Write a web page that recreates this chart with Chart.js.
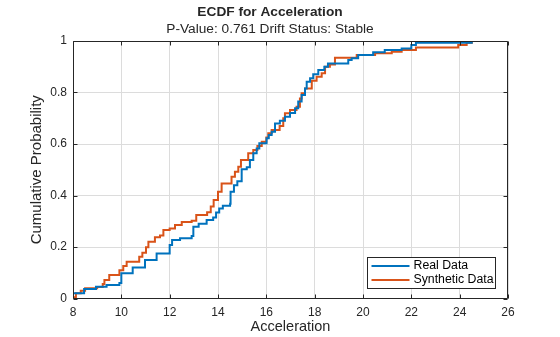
<!DOCTYPE html>
<html>
<head>
<meta charset="utf-8">
<script src="https://cdn.jsdelivr.net/npm/chart.js@4"></script>
<style>
  html, body { margin: 0; padding: 0; background: #fff; }
</style>
</head>
<body>
<canvas id="ecdfChart" width="560" height="337"></canvas>
<script>
const FONT = '"Liberation Sans", Arial, Helvetica, sans-serif';
const INK = '#262626';

const chartTitle = 'ECDF for Acceleration';
const chartSubtitle = 'P-Value: 0.761 Drift Status: Stable';
const xLabel = 'Acceleration';
const yLabel = 'Cumulative Probability';
const seriesNames = ['Real Data', 'Synthetic Data'];
const seriesColors = ['#0072BD', '#D95319'];

const xTicks = [8, 10, 12, 14, 16, 18, 20, 22, 24, 26];
const yTicks = [0, 0.2, 0.4, 0.6, 0.8, 1];

// step positions and cumulative values, real sample
const realX = [8.0, 8.0, 8.46, 8.95, 9.39, 9.92, 10.0, 10.47, 10.98, 11.46,
  12.0, 12.1, 12.43, 12.91, 12.98, 13.2, 13.53, 13.8, 13.92, 14.05,
  14.2, 14.5, 14.52, 14.66, 14.8, 14.98, 15.19, 15.32, 15.46, 15.6,
  15.71, 16.01, 16.1, 16.22, 16.36, 16.56, 16.77, 16.98, 17.19, 17.32,
  17.46, 17.6, 17.67, 17.81, 17.94, 18.15, 18.4, 18.55, 19.39, 19.53,
  19.8, 20.42, 20.9, 21.6, 22.0, 22.19, 24.5];
const realY = [0, 0.02, 0.037, 0.046, 0.052, 0.06, 0.098, 0.12, 0.15, 0.175,
  0.208, 0.227, 0.234, 0.243, 0.279, 0.29, 0.305, 0.315, 0.334, 0.35,
  0.36, 0.368, 0.415, 0.44, 0.455, 0.502, 0.51, 0.538, 0.564, 0.583,
  0.603, 0.622, 0.635, 0.648, 0.68, 0.69, 0.706, 0.72, 0.739, 0.765,
  0.79, 0.816, 0.842, 0.855, 0.871, 0.887, 0.9, 0.913, 0.926, 0.933,
  0.946, 0.956, 0.965, 0.971, 0.984, 0.993, 1.0];

// step positions and cumulative values, synthetic sample
const synthX = [8.0, 8.0, 8.12, 8.32, 8.5, 9.0, 9.23, 9.3, 9.5, 9.92,
  10.08, 10.22, 10.74, 10.87, 11.02, 11.12, 11.39, 11.6, 11.74, 12.0,
  12.22, 12.5, 12.91, 13.1, 13.55, 13.7, 13.82, 14.0, 14.15, 14.56,
  14.7, 14.84, 14.95, 15.25, 15.46, 15.63, 15.81, 16.0, 16.08, 16.22,
  16.55, 16.7, 16.77, 16.98, 17.25, 17.39, 17.46, 17.6, 17.88, 18.08,
  18.29, 18.43, 18.63, 18.84, 19.74, 20.5, 21.19, 21.6, 22.19, 23.94,
  24.29, 24.5];
const synthY = [0, 0.005, 0.02, 0.03, 0.04, 0.045, 0.056, 0.072, 0.091, 0.11,
  0.126, 0.143, 0.162, 0.178, 0.199, 0.22, 0.238, 0.245, 0.266, 0.272,
  0.285, 0.297, 0.302, 0.324, 0.335, 0.357, 0.383, 0.415, 0.447, 0.473,
  0.492, 0.512, 0.538, 0.564, 0.577, 0.592, 0.609, 0.625, 0.642, 0.654,
  0.67, 0.7, 0.719, 0.732, 0.745, 0.777, 0.797, 0.816, 0.846, 0.861,
  0.875, 0.9, 0.909, 0.935, 0.946, 0.952, 0.958, 0.965, 0.975, 0.984,
  0.993, 1.0];

function toPoints(xs, ys) {
    return xs.map((x, i) => ({ x: x, y: ys[i] }));
}

const px = v => Math.round(v) + 0.5;

// titles above the axes
const titles = {
    id: 'titles',
    afterDraw(chart) {
        const { ctx } = chart;
        ctx.save();
        ctx.fillStyle = INK;
        ctx.textAlign = 'center';
        ctx.textBaseline = 'middle';
        ctx.font = 'bold 13.7px ' + FONT;
        ctx.fillText(chartTitle, 270, 12);
        ctx.font = '13.7px ' + FONT;
        ctx.fillText(chartSubtitle, 270, 29.5);
        ctx.restore();
    }
};

// box round the axes with inward ticks on all four sides
const axesBox = {
    id: 'axesBox',
    afterDatasetsDraw(chart) {
        const { ctx, chartArea: a, scales } = chart;
        const L = px(a.left), R = px(a.right - 1), T = px(a.top), B = px(a.bottom - 1);
        const len = 4;
        ctx.save();
        ctx.strokeStyle = INK;
        ctx.lineWidth = 1;
        ctx.beginPath();
        ctx.rect(L, T, R - L, B - T);
        xTicks.forEach(v => {
            const x = px(scales.x.getPixelForValue(v));
            ctx.moveTo(x, B); ctx.lineTo(x, B - len);
            ctx.moveTo(x, T); ctx.lineTo(x, T + len);
        });
        yTicks.forEach(v => {
            const y = px(scales.y.getPixelForValue(v));
            ctx.moveTo(L, y); ctx.lineTo(L + len, y);
            ctx.moveTo(R, y); ctx.lineTo(R - len, y);
        });
        ctx.stroke();
        ctx.restore();
    }
};

// legend in the lower right corner of the axes
const cornerLegend = {
    id: 'cornerLegend',
    afterDraw(chart) {
        const { ctx, chartArea: a } = chart;
        const w = 128, h = 31;
        const x0 = Math.round(a.right - 13 - w) + 0.5;
        const y0 = Math.round(a.bottom - 11 - h) + 0.5;
        ctx.save();
        ctx.fillStyle = '#fff';
        ctx.fillRect(x0, y0, w, h);
        ctx.strokeStyle = INK;
        ctx.lineWidth = 1;
        ctx.strokeRect(x0, y0, w, h);
        ctx.font = '12.3px ' + FONT;
        ctx.textBaseline = 'middle';
        chart.data.datasets.forEach((ds, i) => {
            const y = y0 + 8.5 + i * 14;
            ctx.strokeStyle = ds.borderColor;
            ctx.lineWidth = 2;
            ctx.beginPath();
            ctx.moveTo(x0 + 4, y);
            ctx.lineTo(x0 + 42, y);
            ctx.stroke();
            ctx.fillStyle = '#000';
            ctx.fillText(ds.label, x0 + 46, y);
        });
        ctx.restore();
    }
};

Chart.defaults.font.family = FONT;
Chart.defaults.color = INK;

new Chart(document.getElementById('ecdfChart'), {
    type: 'line',
    data: {
        datasets: [
            {
                label: seriesNames[0],
                data: toPoints(realX, realY),
                borderColor: seriesColors[0],
                borderWidth: 2,
                stepped: true,
                pointRadius: 0,
                borderJoinStyle: 'miter',
                fill: false
            },
            {
                label: seriesNames[1],
                data: toPoints(synthX, synthY),
                borderColor: seriesColors[1],
                borderWidth: 2,
                stepped: true,
                pointRadius: 0,
                borderJoinStyle: 'miter',
                fill: false
            }
        ]
    },
    options: {
        responsive: false,
        animation: false,
        layout: { padding: { left: 0, right: 52, top: 41, bottom: 0 } },
        plugins: {
            legend: { display: false },
            tooltip: { enabled: false }
        },
        scales: {
            x: {
                type: 'linear',
                min: 8,
                max: 26,
                afterBuildTicks: s => { s.ticks = xTicks.map(v => ({ value: v })); },
                afterFit: s => { s.height = 38.5; },
                grid: { color: '#dcdcdc', drawTicks: false },
                border: { display: false },
                ticks: { padding: 7, font: { size: 12 }, color: INK, maxRotation: 0 },
                title: { display: true, text: xLabel, font: { size: 14.5 }, color: INK, padding: { top: 0, bottom: 1 } }
            },
            y: {
                type: 'linear',
                min: 0,
                max: 1,
                afterBuildTicks: s => { s.ticks = yTicks.map(v => ({ value: v })); },
                afterFit: s => { s.width = 73; },
                grid: { color: '#dcdcdc', drawTicks: false },
                border: { display: false },
                ticks: {
                    padding: 6,
                    font: { size: 12 },
                    color: INK,
                    callback: v => String(+v.toFixed(1))
                },
                title: { display: true, text: yLabel, font: { size: 15 }, color: INK, padding: { top: 28, bottom: 0 } }
            }
        }
    },
    plugins: [titles, axesBox, cornerLegend]
});
</script>
</body>
</html>
